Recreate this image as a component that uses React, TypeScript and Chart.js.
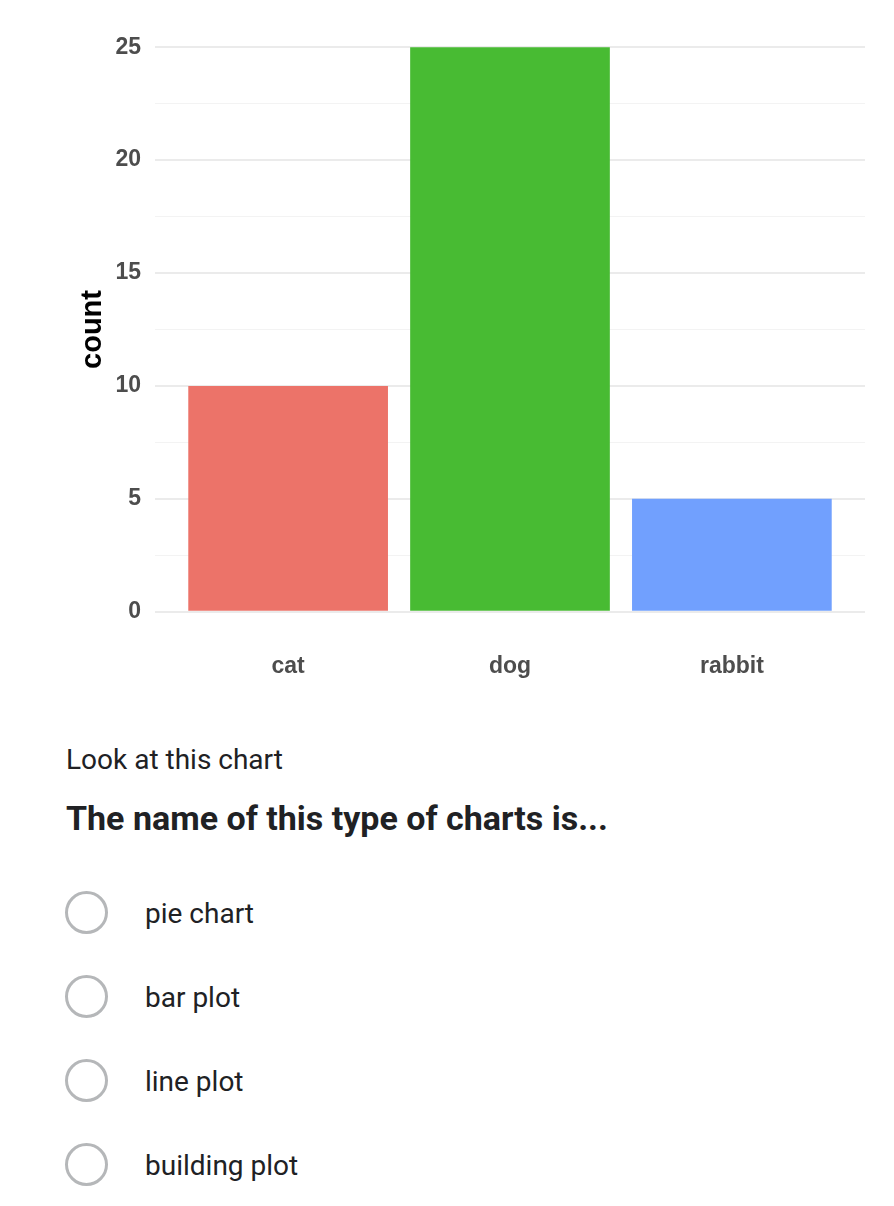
import React, { useEffect, useRef } from "react";
import { Chart, registerables } from "chart.js";

Chart.register(...registerables);

const categories = ["cat", "dog", "rabbit"];
const counts = [10, 25, 5];
const barColors = ["#ec7369", "#48bb33", "#71a0fe"];
const yMajorTicks = [0, 5, 10, 15, 20, 25];
const yMinorTicks = [2.5, 7.5, 12.5, 17.5, 22.5];
const yAxisTitle = "count";
const prompt = "Look at this chart";
const question = "The name of this type of charts is...";
const options = ["pie chart", "bar plot", "line plot", "building plot"];

const TICK_FONT = { family: "'Liberation Sans', Arial, sans-serif", size: 23, weight: "bold" as const };

export default function App() {
  const ref = useRef<HTMLCanvasElement | null>(null);

  useEffect(() => {
    if (!ref.current) return;
    const chart = new Chart(ref.current, {
      type: "bar",
      data: {
        datasets: [
          {
            data: categories.map((_, i) => ({ x: i + 1, y: counts[i] })),
            backgroundColor: barColors,
            borderWidth: 0,
            barPercentage: 0.9,
            categoryPercentage: 1,
          },
        ],
      },
      options: {
        responsive: false,
        animation: false,
        layout: { padding: { left: 0, right: 29, top: 19, bottom: 0 } },
        plugins: { legend: { display: false }, tooltip: { enabled: false } },
        scales: {
          x: {
            type: "linear",
            offset: false,
            min: 0.4,
            max: 3.6,
            afterBuildTicks: (scale: any) => {
              scale.ticks = categories.map((_, i) => ({ value: i + 1 }));
            },
            afterFit: (scale: any) => {
              scale.height = 60;
              scale.paddingLeft = 0;
              scale.paddingRight = 0;
            },
            grid: { display: false, drawTicks: false, offset: false },
            border: { display: false },
            ticks: {
              padding: 13,
              color: "#4d4d4d",
              font: TICK_FONT,
              callback: (v: any) => categories[Math.round(Number(v)) - 1] ?? "",
            },
          },
          y: {
            type: "linear",
            min: -1.25,
            max: 26.25,
            afterBuildTicks: (scale: any) => {
              scale.ticks = [...yMajorTicks, ...yMinorTicks]
                .sort((a, b) => a - b)
                .map((v) => ({ value: v }));
            },
            afterFit: (scale: any) => {
              scale.width = 155;
              scale.paddingTop = 0;
              scale.paddingBottom = 0;
            },
            grid: {
              drawTicks: false,
              color: (ctx: any) => (yMajorTicks.includes(ctx.tick?.value) ? "#ebebeb" : "#f3f3f3"),
              lineWidth: (ctx: any) => (yMajorTicks.includes(ctx.tick?.value) ? 2 : 1),
            },
            border: { display: false },
            ticks: {
              padding: 14,
              color: "#4d4d4d",
              font: TICK_FONT,
              autoSkip: false,
              callback: (v: any) => (yMajorTicks.includes(Number(v)) ? String(v) : ""),
            },
            title: {
              display: true,
              text: yAxisTitle,
              color: "#000000",
              font: { family: "'Liberation Sans', Arial, sans-serif", size: 29, weight: "bold" },
              padding: { top: 76, bottom: 0 },
            },
          },
        },
      },
    } as any);
    return () => chart.destroy();
  }, []);

  const textColor = "#202124";
  const roboto = "Roboto, 'Noto Sans', sans-serif";

  return (
    <div style={{ position: "absolute", left: 0, top: 0, width: 894, height: 1206, background: "#fff" }}>
      <canvas ref={ref} width={894} height={700} style={{ position: "absolute", left: 0, top: 0, display: "block" }} />
      <div
        style={{
          position: "absolute",
          left: 66,
          top: 742,
          fontFamily: roboto,
          fontSize: 28,
          lineHeight: "36px",
          color: textColor,
          whiteSpace: "nowrap",
        }}
      >
        {prompt}
      </div>
      <div
        style={{
          position: "absolute",
          left: 66,
          top: 797,
          fontFamily: roboto,
          fontSize: 34,
          fontWeight: 700,
          lineHeight: "42px",
          color: textColor,
          whiteSpace: "nowrap",
        }}
      >
        {question}
      </div>
      {options.map((opt, i) => (
        <div key={opt}>
          <div
            style={{
              position: "absolute",
              left: 65,
              top: 891 + i * 84,
              width: 37,
              height: 37,
              borderRadius: "50%",
              border: "3px solid #b5b7b9",
              boxSizing: "content-box",
            }}
          />
          <div
            style={{
              position: "absolute",
              left: 145,
              top: 897 + i * 84,
              fontFamily: roboto,
              fontSize: 28,
              lineHeight: "34px",
              color: textColor,
              whiteSpace: "nowrap",
            }}
          >
            {opt}
          </div>
        </div>
      ))}
    </div>
  );
}
